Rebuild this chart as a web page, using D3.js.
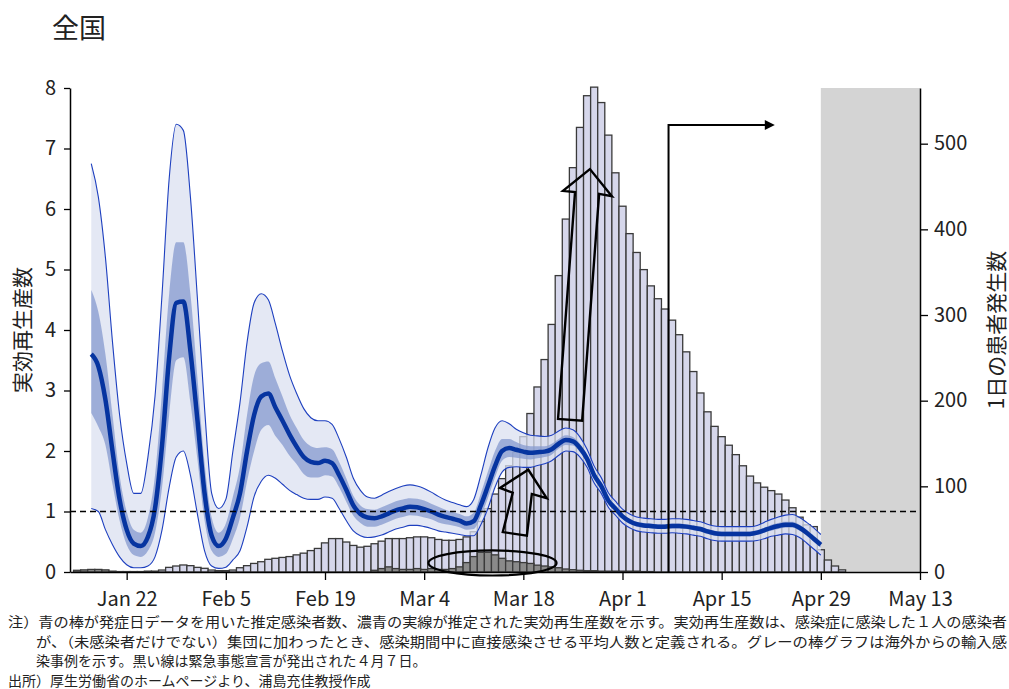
<!DOCTYPE html>
<html>
<head>
<meta charset="utf-8">
<script src="https://cdn.jsdelivr.net/npm/d3@7"></script>
<style>
  body { margin: 0; background: #fff; }
  svg { display: block; font-family: "Noto Sans CJK JP", "Noto Sans", sans-serif; }
</style>
</head>
<body>
<svg id="chart" width="1009" height="689"></svg>
<script>
// ---- data ----
const parse = d3.timeParse("%Y-%m-%d");

// daily estimated infections by onset date, from Jan 15
const casesStart = "2020-01-15";
const cases = [
  0,0,0,0,0,0,0.5,0.5,0.5,0.5,1,1,2.3,5.4,7,8.2,7.4,
  5.4,4.3,2.3,1.6,1.6,2.3,5,7.4,10,12,14.8,16,17,18,20,22,25,27.5,34,39,39,35,31,29,30,33,36,39,39,
  39,40,41,41,40,38,37,37,38,41,47,59,74,91,109,124,140,158,185,216,248,289,346,412,472,519,556,566,548,510,466,
  427,395,373,353,334,319,307,294,277,257,234,209,187,170,158,148,137,124,112,104,99,95,91,84,75,64,55,53,26,14,
  7,2.5
];
// imported cases (grey bars), from Jan 15
const imported = [
  2,2.5,3,3,2.5,1,0,0,0,0,0,0,0,0,0,0,0,
  0,0,0,0,0,0,0,0,0,0,0,0,0,0,0,0,0,0,0,0,0,0,0,0,0,2,4,6,4,
  3,3,4,3,4,3,3,4,6,11,18,23,23,20,16,13,12,11,10,8,7,6,5,3.5,2.7,2,1.5,1.5,1,1,1,
  1,1,1,0.5,0.5
];

// effective reproduction number, from Jan 17
const rStart = "2020-01-17";
const rMid = [
  3.6,3.4,2.85,2.0,1.2,0.7,0.47,0.43,0.58,1.05,2.1,3.55,4.45,4.47,3.65,
  2.5,1.3,0.6,0.43,0.55,0.9,1.3,2.0,2.6,2.9,2.95,2.72,2.5,2.27,2.07,1.9,1.82,1.8,1.84,1.8,1.6,1.36,1.1,0.96,0.9,0.89,0.92,0.97,1.02,
  1.05,1.08,1.07,1.04,1.0,0.95,0.91,0.88,0.85,0.8,0.84,1.1,1.42,1.75,2.0,2.05,2.02,1.99,1.97,1.98,1.99,2.03,2.12,2.18,2.16,2.05,1.87,1.6,1.42,1.18,1.05,
  0.92,0.84,0.79,0.77,0.76,0.75,0.75,0.76,0.76,0.75,0.73,0.71,0.67,0.64,0.63,0.63,0.63,0.63,0.63,0.65,0.69,0.73,0.76,0.78,0.78,0.73,0.65,0.55,0.45
];
const rHi95 = [
  6.75,6.2,5.2,3.8,2.6,1.8,1.3,1.3,1.9,2.9,4.6,6.5,7.4,7.3,6.2,
  4.5,2.7,1.3,1.05,1.2,2.0,2.8,3.8,4.45,4.6,4.5,4.1,3.65,3.25,2.95,2.7,2.55,2.5,2.5,2.44,2.2,1.9,1.55,1.35,1.24,1.22,1.27,1.33,1.38,
  1.42,1.44,1.42,1.38,1.32,1.25,1.19,1.15,1.11,1.08,1.2,1.6,2.05,2.38,2.5,2.45,2.36,2.3,2.26,2.25,2.24,2.26,2.33,2.38,2.35,2.23,2.03,1.75,1.56,1.31,1.17,
  1.04,0.96,0.91,0.89,0.88,0.87,0.87,0.88,0.88,0.87,0.85,0.83,0.79,0.76,0.75,0.75,0.75,0.75,0.75,0.77,0.82,0.87,0.91,0.94,0.95,0.9,0.82,0.73,0.62
];
const rLo95 = [
  1.05,1.0,0.7,0.45,0.25,0.12,0.07,0.07,0.1,0.25,0.7,1.4,1.9,2.0,1.6,
  0.95,0.35,0.1,0.06,0.08,0.2,0.35,0.75,1.25,1.5,1.6,1.55,1.45,1.35,1.28,1.22,1.2,1.2,1.24,1.22,1.05,0.85,0.68,0.6,0.57,0.58,0.61,0.66,0.71,
  0.74,0.77,0.77,0.75,0.72,0.68,0.66,0.64,0.62,0.6,0.6,0.78,1.05,1.4,1.65,1.73,1.74,1.73,1.73,1.76,1.79,1.84,1.93,2.0,1.99,1.9,1.73,1.47,1.3,1.07,0.94,
  0.81,0.73,0.68,0.66,0.65,0.64,0.64,0.65,0.64,0.63,0.61,0.59,0.55,0.52,0.51,0.51,0.51,0.51,0.51,0.52,0.55,0.59,0.61,0.63,0.62,0.57,0.48,0.38,0.28
];
const rHi50 = [
  4.66,4.3,3.6,2.6,1.6,1.0,0.7,0.65,0.9,1.6,3.0,4.6,5.45,5.45,4.6,
  3.2,1.8,0.9,0.65,0.8,1.25,1.75,2.6,3.25,3.45,3.48,3.2,2.9,2.6,2.38,2.18,2.08,2.05,2.06,2.03,1.82,1.55,1.26,1.1,1.04,1.03,1.07,1.12,1.17,
  1.2,1.22,1.21,1.18,1.13,1.08,1.03,0.99,0.96,0.92,0.98,1.3,1.66,2.0,2.2,2.2,2.15,2.1,2.08,2.08,2.08,2.12,2.2,2.26,2.23,2.12,1.93,1.66,1.47,1.23,1.1,
  0.96,0.88,0.83,0.81,0.8,0.79,0.79,0.8,0.8,0.79,0.77,0.75,0.71,0.68,0.67,0.67,0.67,0.67,0.67,0.69,0.73,0.78,0.81,0.83,0.83,0.78,0.7,0.6,0.5
];
const rLo50 = [
  2.63,2.4,2.1,1.45,0.85,0.45,0.28,0.25,0.35,0.65,1.4,2.6,3.5,3.55,2.8,
  1.85,0.85,0.35,0.25,0.3,0.55,0.9,1.5,2.0,2.35,2.43,2.25,2.1,1.92,1.78,1.62,1.56,1.56,1.6,1.58,1.4,1.16,0.93,0.81,0.75,0.75,0.78,0.83,0.88,
  0.91,0.94,0.93,0.9,0.87,0.82,0.79,0.77,0.74,0.7,0.71,0.92,1.22,1.56,1.84,1.9,1.89,1.87,1.86,1.88,1.9,1.94,2.04,2.1,2.09,1.98,1.81,1.55,1.37,1.13,1.0,
  0.88,0.8,0.75,0.73,0.72,0.71,0.71,0.72,0.72,0.71,0.69,0.67,0.63,0.6,0.59,0.59,0.59,0.59,0.59,0.61,0.65,0.68,0.71,0.73,0.73,0.68,0.6,0.5,0.4
];

const xTicks = ["2020-01-22","2020-02-05","2020-02-19","2020-03-04","2020-03-18","2020-04-01","2020-04-15","2020-04-29","2020-05-13"];
const leftTicks = [0,1,2,3,4,5,6,7,8];
const rightTicks = [0,100,200,300,400,500];
const emergencyDate = "2020-04-07";
const shadeRange = ["2020-04-29","2020-05-13"];

const title = "全国";
const leftLabel = "実効再生産数";
const rightLabel = "1日の患者発生数";
const notes = [
  "注）青の棒が発症日データを用いた推定感染者数、濃青の実線が推定された実効再生産数を示す。実効再生産数は、感染症に感染した１人の感染者",
  "が、（未感染者だけでない）集団に加わったとき、感染期間中に直接感染させる平均人数と定義される。グレーの棒グラフは海外からの輸入感",
  "染事例を示す。黒い線は緊急事態宣言が発出された４月７日。",
  "出所）厚生労働省のホームページより、浦島充佳教授作成"
];

// ---- scales ----
const svg = d3.select("#chart");
const t0 = parse("2020-01-14"), t1 = parse("2020-05-13");
const x = d3.scaleTime().domain([t0, t1]).range([70, 920]);
const yL = d3.scaleLinear().domain([0, 8]).range([572, 88]);
const yR = d3.scaleLinear().domain([0, 565]).range([572, 88]);
const dayW = x(d3.timeDay.offset(t0, 1)) - x(t0);
const xf = f => x(new Date(+t0 + f * 864e5)); // fractional day from t0

const barDays = cases.map((v, i) => d3.timeDay.offset(parse(casesStart), i));
const rDays = rMid.map((v, i) => d3.timeDay.offset(parse(rStart), i));

// grey shaded period
svg.append("rect")
  .attr("x", x(parse(shadeRange[0])))
  .attr("y", yL(8))
  .attr("width", x(parse(shadeRange[1])) - x(parse(shadeRange[0])))
  .attr("height", yL(0) - yL(8))
  .attr("fill", "#d4d4d4");

// bars
const bars = svg.append("g");
bars.selectAll("rect.c")
  .data(cases)
  .enter().append("rect")
  .attr("class", "c")
  .attr("x", (d, i) => x(barDays[i]) - dayW / 2)
  .attr("width", dayW)
  .attr("y", d => yR(d))
  .attr("height", d => yR(0) - yR(d))
  .attr("fill", "#d6d7eb")
  .attr("stroke", "#3a3a3a")
  .attr("stroke-width", 1.3);

bars.selectAll("rect.m")
  .data(imported)
  .enter().append("rect")
  .attr("class", "m")
  .attr("x", (d, i) => x(barDays[i]) - dayW / 2)
  .attr("width", dayW)
  .attr("y", d => yR(d))
  .attr("height", d => yR(0) - yR(d))
  .attr("fill", "#8a8a8a")
  .attr("stroke", "#3a3a3a")
  .attr("stroke-width", 1.3);

// R bands and line
const curve = d3.curveMonotoneX;
const band = (lo, hi) => d3.area()
  .x((d, i) => x(rDays[i]))
  .y0((d, i) => yL(lo[i]))
  .y1((d, i) => yL(hi[i]))
  .curve(curve);
const line = arr => d3.line()
  .x((d, i) => x(rDays[i]))
  .y((d, i) => yL(arr[i]))
  .curve(curve);

svg.append("path").datum(rMid)
  .attr("d", band(rLo95, rHi95))
  .attr("fill", "#dbe0f0").attr("fill-opacity", 0.75);
svg.append("path").datum(rMid)
  .attr("d", band(rLo50, rHi50))
  .attr("fill", "#869acf").attr("fill-opacity", 0.75);
[rLo95, rHi95].forEach(arr => {
  svg.append("path").datum(arr)
    .attr("d", line(arr))
    .attr("fill", "none").attr("stroke", "#1d3fbf").attr("stroke-width", 1.1);
});
svg.append("path").datum(rMid)
  .attr("d", line(rMid))
  .attr("fill", "none").attr("stroke", "#0634a0").attr("stroke-width", 4.5);

// R = 1 reference
svg.append("line")
  .attr("x1", 70).attr("x2", 920)
  .attr("y1", yL(1)).attr("y2", yL(1))
  .attr("stroke", "#000").attr("stroke-width", 1.6)
  .attr("stroke-dasharray", "6,4");

// emergency declaration arrow
const ex = x(parse(emergencyDate)) + dayW / 2;
const arrowEnd = d3.timeDay.offset(parse(emergencyDate), 15);
const ax = x(arrowEnd) + dayW / 2;
svg.append("path")
  .attr("d", `M${ex},${yL(0)}V${yL(7.39)}H${ax - 8}`)
  .attr("fill", "none").attr("stroke", "#000").attr("stroke-width", 2);
svg.append("path")
  .attr("d", `M${ax},${yL(7.39)}l-10,-5v10z`)
  .attr("fill", "#000");

// hollow arrows and ellipse (day offset from Jan 14, R value)
const bigArrow = [[68.9,2.53],[71.3,6.28],[69.6,6.30],[73.4,6.66],[76.5,6.21],[74.7,6.25],[72.3,2.50]];
const smallArrow = [[61.1,0.66],[62.5,1.31],[60.7,1.39],[64.7,1.69],[67.3,1.22],[65.2,1.29],[64.5,0.60]];
[bigArrow, smallArrow].forEach(pts => {
  svg.append("polygon")
    .attr("points", pts.map(p => [xf(p[0]), yL(p[1])].join(",")).join(" "))
    .attr("fill", "none").attr("stroke", "#000").attr("stroke-width", 2.4)
    .attr("stroke-linejoin", "miter");
});
const ell = { c: [59.65, 0.149], rx: 9.04, ry: 0.207 };
svg.append("ellipse")
  .attr("cx", xf(ell.c[0])).attr("cy", yL(ell.c[1]))
  .attr("rx", xf(ell.c[0] + ell.rx) - xf(ell.c[0]))
  .attr("ry", yL(0) - yL(ell.ry))
  .attr("fill", "none").attr("stroke", "#000").attr("stroke-width", 2.2);

// axes
const fmt = d3.timeFormat("%b %-d");
const gx = svg.append("g").attr("transform", `translate(0,${yL(0)})`)
  .call(d3.axisBottom(x).tickValues(xTicks.map(parse)).tickFormat(fmt).tickSize(8).tickSizeOuter(0).tickPadding(12));
const gl = svg.append("g").attr("transform", "translate(70,0)")
  .call(d3.axisLeft(yL).tickValues(leftTicks).tickSize(6).tickSizeOuter(0).tickPadding(8));
const gr = svg.append("g").attr("transform", "translate(920,0)")
  .call(d3.axisRight(yR).tickValues(rightTicks).tickSize(8).tickSizeOuter(0).tickPadding(6));
[gx, gl, gr].forEach(g => {
  g.selectAll("path.domain").attr("stroke", "#000").attr("stroke-width", 1.5);
  g.selectAll(".tick line").attr("stroke", "#000").attr("stroke-width", 1.3);
  g.selectAll("text").attr("font-size", 20).attr("fill", "#222")
    .attr("font-family", "'Noto Sans CJK JP', 'Noto Sans', sans-serif");
});
gr.selectAll(".tick text").attr("dy", "0.3em");

// titles
svg.append("text").attr("x", 52).attr("y", 38)
  .attr("font-size", 27).attr("fill", "#222").text(title);
svg.append("text")
  .attr("transform", `translate(30,${(yL(0) + yL(8)) / 2}) rotate(-90)`)
  .attr("text-anchor", "middle").attr("font-size", 21).attr("fill", "#222")
  .text(leftLabel);
svg.append("text")
  .attr("transform", `translate(1004,${(yL(0) + yL(8)) / 2}) rotate(-90)`)
  .attr("text-anchor", "middle").attr("font-size", 21).attr("fill", "#222")
  .text(rightLabel);

// footnotes
const noteX = [8, 36, 36, 8];
const noteLen = [999, 971, null, null];
notes.forEach((s, i) => {
  const t = svg.append("text")
    .attr("x", noteX[i]).attr("y", 627 + i * 19.6)
    .attr("font-size", 14).attr("fill", "#222")
    .text(s);
  if (noteLen[i]) t.attr("textLength", noteLen[i]).attr("lengthAdjust", "spacingAndGlyphs");
});
</script>
</body>
</html>
